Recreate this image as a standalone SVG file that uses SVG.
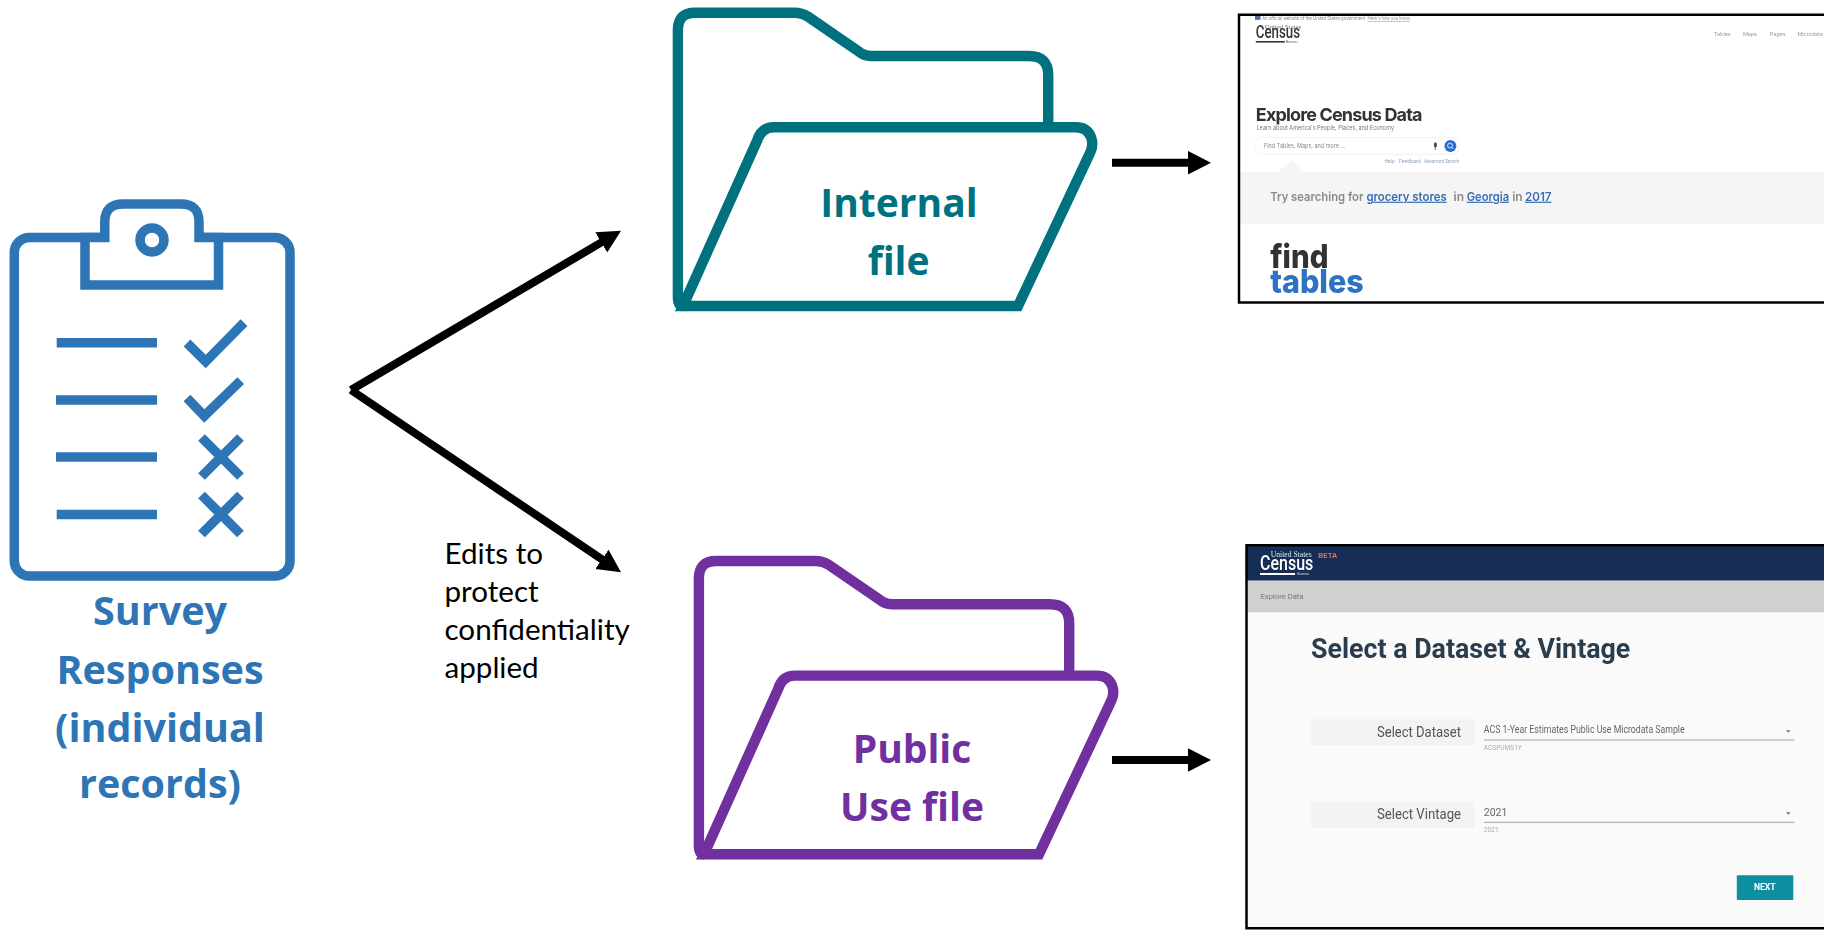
<svg xmlns="http://www.w3.org/2000/svg" width="1824" height="930" viewBox="0 0 1824 930">
<style>
.label{font-family:"Open Sans","Noto Sans",sans-serif;font-weight:700;text-anchor:middle}
.blue{fill:#2E75B6}.teal{fill:#00727F}.purple{fill:#7030A0}
.ink{fill:none;stroke-width:10.4;stroke-linejoin:round}
.cb{fill:none;stroke:#2E75B6;stroke-width:9.5;stroke-linejoin:miter}
.edge{fill:none;stroke:#000;stroke-width:8}
.in{font-family:"Inter","Liberation Sans",sans-serif}
.ro{font-family:"Roboto","Liberation Sans",sans-serif}
.frame{stroke:#000;stroke-width:2.5}
.note{font-family:"Lato","Open Sans",sans-serif;font-size:29.6px;fill:#000}
</style>
<defs>
<marker id="head" markerUnits="userSpaceOnUse" markerWidth="24" markerHeight="24" refX="9" refY="11.75" orient="auto"><path d="M0,0L23,11.75L0,23.5Z" fill="#000"/></marker>
<filter id="soft" x="0" y="0" width="1" height="1"><feGaussianBlur stdDeviation="0.45"/></filter>
<path id="folderBack" d="M683 306Q677.9 306 677.9 298V30Q677.9 12.7 695 12.7H794Q802 12.7 808 16.7L858 51Q864 56 871 56H1029Q1048.2 56 1048.2 75V127"/>
<path id="folderFront" d="M683 306L757 141Q761 127.3 774 127.3H1076Q1087 127.3 1091 137Q1094 145 1090 153L1018 306Z"/>
</defs>
<rect width="1824" height="930" fill="#fff"/>

<g id="survey-responses">
<rect class="cb" x="14.3" y="237.5" width="275.7" height="338.5" rx="15"/>
<path d="M85 237.5V285H218.5V237.5H199V222Q199 204 181 204H123Q104.8 204 104.8 222V237.5Z" fill="#fff" stroke="#2E75B6" stroke-width="9.5"/>
<circle class="cb" cx="152" cy="240" r="12"/>
<path class="cb" stroke-width="10" d="M56.7 342.7H157M56 400H157M56 457H157M56.7 514.5H157"/>
<path class="cb" d="M187 343L205.7 361.5L244 322.7M187 398L204.3 416L240.7 380.7"/>
<path class="cb" d="M201.5 437.5L240.5 476.5M240.5 437.5L201.5 476.5M201.5 495L240.5 534M240.5 495L201.5 534"/>
<g class="label blue" font-size="39.5">
<text x="160" y="625">Survey</text>
<text x="160" y="684">Responses</text>
<text x="160" y="741.5">(individual</text>
<text x="160" y="798">records)</text>
</g>
</g>

<g id="connectors">
<path class="edge" marker-end="url(#head)" d="M351 390L609 237.9"/>
<path class="edge" marker-end="url(#head)" d="M351 390L609.4 564.4"/>
<path class="edge" marker-end="url(#head)" d="M1112 162.7H1197"/>
<path class="edge" marker-end="url(#head)" d="M1112 760H1197"/>
</g>

<g id="edits-note" class="note">
<text x="444.5" y="563.5">Edits to</text>
<text x="444.5" y="601.5">protect</text>
<text x="444.5" y="640">confidentiality</text>
<text x="444.5" y="678">applied</text>
</g>

<g id="internal-file">
<use href="#folderBack" class="ink" stroke="#00727F"/>
<use href="#folderFront" class="ink" stroke="#00727F" style="stroke-linejoin:miter"/>
<g class="label teal" font-size="39">
<text x="899" y="216.7">Internal</text>
<text x="898.6" y="275">file</text>
</g>
</g>

<g id="public-use-file">
<g transform="translate(21 548.3)">
<use href="#folderBack" class="ink" stroke="#7030A0"/>
<use href="#folderFront" class="ink" stroke="#7030A0" style="stroke-linejoin:miter"/>
</g>
<g class="label purple" font-size="39">
<text x="912" y="762.7">Public</text>
<text x="912" y="821">Use file</text>
</g>
</g>

<g id="internal-screenshot">
<rect x="1239" y="15" width="590" height="287.5" fill="#fff"/>
<g filter="url(#soft)">
<path d="M1240 172H1278L1291.4 160L1304.4 172H1824V224H1240Z" fill="#f5f5f5"/>
<rect x="1255" y="16" width="5.5" height="3.8" fill="#556a9c"/>
<text class="in" x="1262.2" y="20" font-size="4.9" fill="#888" textLength="103" lengthAdjust="spacingAndGlyphs">An official website of the United States government</text>
<text class="in" x="1367.5" y="20" font-size="4.9" fill="#7f8fb5" text-decoration="underline" textLength="42.4" lengthAdjust="spacingAndGlyphs">Here's how you know</text>
<text x="1264.8" y="29" font-size="7" fill="#666" font-family="Liberation Serif,serif" textLength="36.4" lengthAdjust="spacingAndGlyphs">United States</text>
<text class="ro" x="1255.8" y="38.3" font-size="18" font-weight="500" fill="#333" textLength="44.3" lengthAdjust="spacingAndGlyphs">Census</text>
<rect x="1255.8" y="41" width="29" height="1.6" fill="#333"/>
<text class="ro" x="1285.7" y="43.2" font-size="3.8" fill="#666">Bureau</text>
<g class="in" font-size="5.4" fill="#999">
<text x="1714" y="35.7">Tables</text><text x="1742.9" y="35.7">Maps</text><text x="1769.8" y="35.7">Pages</text><text x="1797.4" y="35.7">Microdata</text>
</g>
<text class="in" x="1255.8" y="120.7" font-size="18" font-weight="700" fill="#333" textLength="166.7" lengthAdjust="spacing">Explore Census Data</text>
<text class="in" x="1256.5" y="129.7" font-size="6.6" fill="#777" textLength="137.5" lengthAdjust="spacingAndGlyphs">Learn about America's People, Places, and Economy</text>
<rect x="1254.6" y="137.7" width="204.6" height="16.6" rx="8.3" fill="#fff" stroke="#eee" stroke-width="0.8"/>
<text class="in" x="1264" y="148" font-size="6.4" fill="#888" textLength="81.4" lengthAdjust="spacingAndGlyphs">Find Tables, Maps, and more ...</text>
<rect x="1434" y="142.5" width="2.8" height="5" rx="1.4" fill="#444"/>
<path d="M1435.3 147.5V150" stroke="#444" stroke-width="0.8"/>
<circle cx="1450.4" cy="146" r="6" fill="#2a6fc9"/>
<circle cx="1450" cy="145.6" r="2.4" fill="none" stroke="#fff" stroke-width="0.8"/>
<path d="M1451.8 147.4L1453.4 149" stroke="#fff" stroke-width="0.8"/>
<g class="in" font-size="4.8" fill="#8a9bb8">
<text x="1384.5" y="163.3">Help</text><text x="1399" y="163.3">Feedback</text><text x="1424" y="163.3" textLength="35" lengthAdjust="spacingAndGlyphs">Advanced Search</text>
</g>
<g class="in" font-size="12" font-weight="600">
<text x="1270.2" y="200.7" fill="#8a8a8a" textLength="93.2" lengthAdjust="spacingAndGlyphs">Try searching for</text>
<text x="1366.4" y="200.7" fill="#3a6db5" text-decoration="underline" textLength="80.3" lengthAdjust="spacingAndGlyphs">grocery stores</text>
<text x="1453.5" y="200.7" fill="#8a8a8a">in</text>
<text x="1466.7" y="200.7" fill="#3a6db5" text-decoration="underline" textLength="42.4" lengthAdjust="spacingAndGlyphs">Georgia</text>
<text x="1512.2" y="200.7" fill="#8a8a8a">in</text>
<text x="1525" y="200.7" fill="#3a6db5" text-decoration="underline" textLength="26.5" lengthAdjust="spacingAndGlyphs">2017</text>
</g>
<text class="in" x="1270.2" y="268.3" font-size="33" font-weight="800" fill="#333" textLength="58.3" lengthAdjust="spacingAndGlyphs">find</text>
<text class="in" x="1270.2" y="292.7" font-size="33" font-weight="800" fill="#2e72c4" textLength="93.6" lengthAdjust="spacingAndGlyphs">tables</text>
</g>
<path class="frame" fill="none" d="M1824 14.7H1239V302.5H1824"/>
</g>

<g id="public-screenshot">
<rect x="1246" y="546" width="584" height="382" fill="#fafafa"/>
<g filter="url(#soft)">
<rect x="1246" y="546" width="584" height="34.7" fill="#132f55"/>
<rect x="1246" y="580.7" width="584" height="31.6" fill="#d0d0d0"/>
<text x="1270.7" y="557.3" font-size="7.5" fill="#dfe6ee" font-family="Liberation Serif,serif" textLength="41" lengthAdjust="spacingAndGlyphs">United States</text>
<text class="ro" x="1318.3" y="557.7" font-size="6.5" font-weight="700" fill="#d96a6a" textLength="19" lengthAdjust="spacingAndGlyphs">BETA</text>
<text class="ro" x="1260" y="570.3" font-size="21" font-weight="500" fill="#fff" textLength="53.3" lengthAdjust="spacingAndGlyphs">Census</text>
<rect x="1260" y="573" width="35" height="2" fill="#fff"/>
<text class="ro" x="1297.3" y="575" font-size="3.8" fill="#cfd6e0">Bureau</text>
<text class="ro" x="1260.7" y="599" font-size="7.6" fill="#777" textLength="42.7" lengthAdjust="spacingAndGlyphs">Explore Data</text>
<text class="ro" x="1311" y="657.7" font-size="28.5" font-weight="700" fill="#2c3e50" textLength="319.3" lengthAdjust="spacingAndGlyphs">Select a Dataset &amp; Vintage</text>
<rect x="1311" y="719.3" width="163.3" height="25.7" fill="#f3f3f3"/>
<rect x="1311" y="802" width="163.3" height="25.7" fill="#f3f3f3"/>
<text class="ro" x="1377" y="736.7" font-size="14" fill="#555" textLength="84" lengthAdjust="spacingAndGlyphs">Select Dataset</text>
<text class="ro" x="1377" y="819" font-size="14" fill="#555" textLength="84" lengthAdjust="spacingAndGlyphs">Select Vintage</text>
<text class="ro" x="1483.8" y="733.3" font-size="10.5" fill="#666" textLength="200.8" lengthAdjust="spacingAndGlyphs">ACS 1-Year Estimates Public Use Microdata Sample</text>
<text class="ro" x="1483.8" y="815.7" font-size="10.5" fill="#666">2021</text>
<path d="M1483.8 740H1794.4M1483.8 822.3H1794.4" stroke="#999" stroke-width="0.9"/>
<path d="M1786 730.3H1790.6L1788.3 732.8ZM1786 812.3H1790.6L1788.3 814.8Z" fill="#777"/>
<text class="ro" x="1483.8" y="750" font-size="6.6" fill="#aaa" textLength="38" lengthAdjust="spacingAndGlyphs">ACSPUMS1Y</text>
<text class="ro" x="1483.8" y="832.3" font-size="6.6" fill="#aaa">2021</text>
<rect x="1736.8" y="875.3" width="56.5" height="24.7" rx="1" fill="#0f8fa0"/>
<text class="ro" x="1764.8" y="890.3" font-size="8.6" font-weight="700" fill="#fff" text-anchor="middle">NEXT</text>
</g>
<path class="frame" fill="none" d="M1824 545.3H1246.5V928.3H1824"/>
</g>
</svg>
